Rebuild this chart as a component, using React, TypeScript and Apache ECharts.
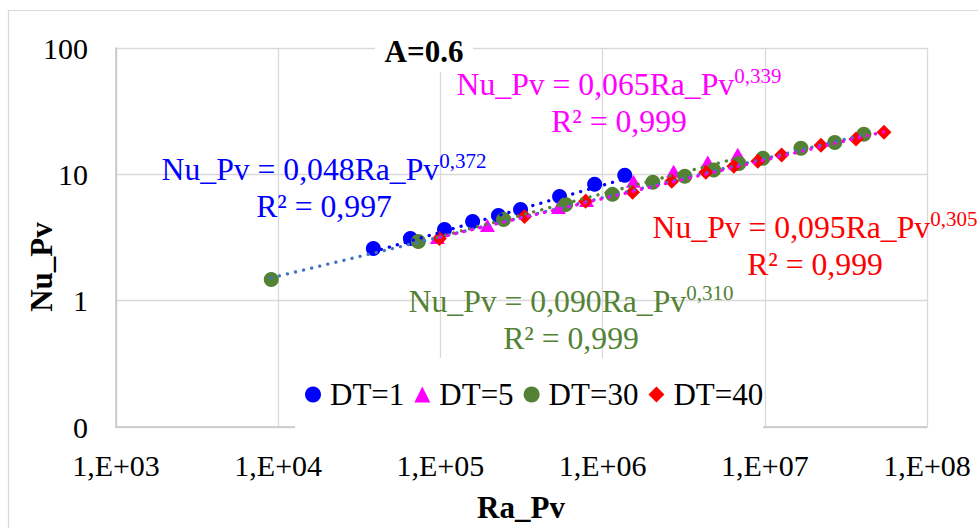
import { useEffect, useRef } from "react";
import * as echarts from "echarts";

const seriesNames = ["DT=1", "DT=5", "DT=30", "DT=40"];
const seriesColors = ["#0000FF", "#FF00FF", "#548235", "#FF0000"];
const trendColors = ["#0000FF", "#548235", "#4472C4", "#FF00FF"];
const seriesSymbols = ["circle", "triangle", "circle", "diamond"];

const dt1Ra = [3.86e4, 6.53e4, 1.06e5, 1.58e5, 2.28e5, 3.12e5, 5.43e5, 8.93e5, 1.37e6];
const dt1Nu = [2.59, 3.1, 3.66, 4.24, 4.73, 5.27, 6.69, 8.33, 9.82];

const dt5Ra = [9.58e4, 1.95e5, 5.35e5, 7.96e5, 1.55e6, 2.74e6, 4.45e6, 6.81e6];
const dt5Nu = [3.16, 3.94, 5.47, 6.22, 8.8, 10.6, 12.5, 14.4];

const dt30Ra = [9.06e3, 7.31e4, 2.45e5, 5.92e5, 1.15e6, 2.04e6, 3.21e6, 4.84e6, 6.92e6, 9.73e6, 1.67e7, 2.7e7, 4.08e7];
const dt30Nu = [1.47, 2.94, 4.39, 5.78, 6.94, 8.64, 9.64, 10.8, 12.2, 13.4, 16.1, 17.9, 20.8];

const dt40Ra = [9.86e4, 3.3e5, 7.85e5, 1.53e6, 2.67e6, 4.33e6, 6.44e6, 9.06e6, 1.27e7, 2.22e7, 3.65e7, 5.43e7];
const dt40Nu = [3.11, 4.64, 6.11, 7.2, 8.8, 10.4, 11.6, 12.7, 14.2, 17.0, 19.0, 21.5];

// power-law fits shown in the chart (Nu = a * Ra^b)
const fitA = [0.048, 0.065, 0.09, 0.095];
const fitB = [0.372, 0.339, 0.31, 0.305];
const fitALabel = ["0,048", "0,065", "0,090", "0,095"];
const fitBLabel = ["0,372", "0,339", "0,310", "0,305"];
const r2Label = ["0,997", "0,999", "0,999", "0,999"];

const xTickExp = [3, 4, 5, 6, 7, 8];
const yTickLabels = ["0", "1", "10", "100"];

const allRa = [dt1Ra, dt5Ra, dt30Ra, dt40Ra];
const allNu = [dt1Nu, dt5Nu, dt30Nu, dt40Nu];

const FONT = "Liberation Serif";

export default function App() {
  const ref = useRef<HTMLDivElement>(null);
  useEffect(() => {
    if (!ref.current) return;
    const chart = echarts.init(ref.current, undefined, { renderer: "svg" });

    const scatterSeries = seriesNames.map((name, i) => ({
      name,
      type: "scatter",
      symbol: seriesSymbols[i],
      symbolSize: seriesSymbols[i] === "triangle" ? [15, 13] : 15,
      itemStyle: { color: seriesColors[i], opacity: 1 },
      data: allRa[i].map((x, k) => [x, allNu[i][k]]),
      z: 2,
    }));

    const trendSeries = seriesNames.map((name, i) => {
      const xmin = Math.min(...allRa[i]);
      const xmax = Math.max(...allRa[i]);
      return {
        name: name + " trend",
        type: "line",
        symbol: "none",
        silent: true,
        lineStyle: { color: trendColors[i], width: 3.3, type: [0.1, 8.2], cap: "round" },
        data: [
          [xmin, fitA[i] * Math.pow(xmin, fitB[i])],
          [xmax, fitA[i] * Math.pow(xmax, fitB[i])],
        ],
        z: 3,
      };
    });

    const eqPos = [
      { cx: 324, b: 180 },
      { cx: 619, b: 95 },
      { cx: 571, b: 312 },
      { cx: 815, b: 238 },
    ];

    const eqTexts = seriesNames.map((_, i) => ({
      type: "text",
      x: eqPos[i].cx,
      y: eqPos[i].b - 29.3,
      z: 100,
      style: {
        text: `{m|Nu_Pv = ${fitALabel[i]}Ra_Pv}{s|${fitBLabel[i]}}\n{m|R² = ${r2Label[i]}}`,
        align: "center",
        verticalAlign: "top",
        fill: seriesColors[i],
        fontFamily: FONT,
        fontSize: 31.7,
        rich: {
          m: { fontSize: 31.7, fontFamily: FONT, lineHeight: 37, fill: seriesColors[i], align: "center" },
          s: { fontSize: 21, fontFamily: FONT, lineHeight: 24, verticalAlign: "top", fill: seriesColors[i], align: "center" },
        },
      },
    }));

    chart.setOption({
      animation: false,
      backgroundColor: "#ffffff",
      textStyle: { fontFamily: FONT },
      grid: { left: 116, top: 48, width: 811, height: 379, containLabel: false },
      xAxis: {
        type: "log",
        logBase: 10,
        min: Math.pow(10, xTickExp[0]),
        max: Math.pow(10, xTickExp[xTickExp.length - 1]),
        axisLine: { show: true, onZero: false, lineStyle: { color: "#c6c6c6", width: 1.5 } },
        axisTick: { show: false },
        splitLine: { show: true, lineStyle: { color: "#d9d9d9", width: 1.3 } },
        axisLabel: {
          fontFamily: FONT,
          fontSize: 30,
          color: "#000",
          margin: 23,
          lineHeight: 30,
          formatter: (v: number) => {
            const e = Math.round(Math.log10(v));
            return "1,E+" + String(e).padStart(2, "0");
          },
        },
      },
      yAxis: {
        type: "log",
        logBase: 10,
        min: 0.1,
        max: 100,
        axisLine: { show: true, onZero: false, lineStyle: { color: "#c6c6c6", width: 1.5 } },
        axisTick: { show: false },
        splitLine: { show: true, lineStyle: { color: "#d9d9d9", width: 1.3 } },
        axisLabel: {
          fontFamily: FONT,
          fontSize: 30,
          color: "#000",
          margin: 28,
          formatter: (v: number) => {
            const e = Math.round(Math.log10(v));
            return yTickLabels[e + 1];
          },
        },
      },
      legend: {
        data: seriesNames.map((n, i) => ({ name: n, icon: seriesSymbols[i] })),
        left: 295,
        top: 358,
        padding: [21, 0, 20, 10],
        itemWidth: 16,
        itemHeight: 16,
        itemGap: 10,
        backgroundColor: "#ffffff",
        selectedMode: false,
        textStyle: { fontFamily: FONT, fontSize: 31, color: "#000", padding: [0, 0, 0, 4] },
      },
      graphic: [
        {
          type: "rect",
          z: 0,
          silent: true,
          shape: { x: 8.5, y: 10.5, width: 1200, height: 1200 },
          style: { fill: "none", stroke: "#d9d9d9", lineWidth: 1.2 },
        },
        {
          type: "rect",
          z: 99,
          shape: { x: 375, y: 28, width: 98, height: 44 },
          style: { fill: "#ffffff" },
        },
        {
          type: "text",
          z: 100,
          x: 424,
          y: 51.5,
          style: {
            text: "A=0.6",
            align: "center",
            verticalAlign: "middle",
            fontFamily: FONT,
            fontWeight: "bold",
            fontSize: 31,
            fill: "#000",
          },
        },
        {
          type: "text",
          z: 100,
          x: 41,
          y: 267,
          rotation: Math.PI / 2,
          style: {
            text: "Nu_Pv",
            align: "center",
            verticalAlign: "middle",
            fontFamily: FONT,
            fontWeight: "bold",
            fontSize: 31,
            fill: "#000",
          },
        },
        {
          type: "text",
          z: 100,
          x: 521,
          y: 507.5,
          style: {
            text: "Ra_Pv",
            align: "center",
            verticalAlign: "middle",
            fontFamily: FONT,
            fontWeight: "bold",
            fontSize: 31,
            fill: "#000",
          },
        },
        ...eqTexts,
      ],
      series: [...scatterSeries, ...trendSeries],
    });

    return () => chart.dispose();
  }, []);

  return (
    <div
      ref={ref}
      style={{ position: "fixed", left: 0, top: 0, width: 978, height: 528 }}
    />
  );
}
